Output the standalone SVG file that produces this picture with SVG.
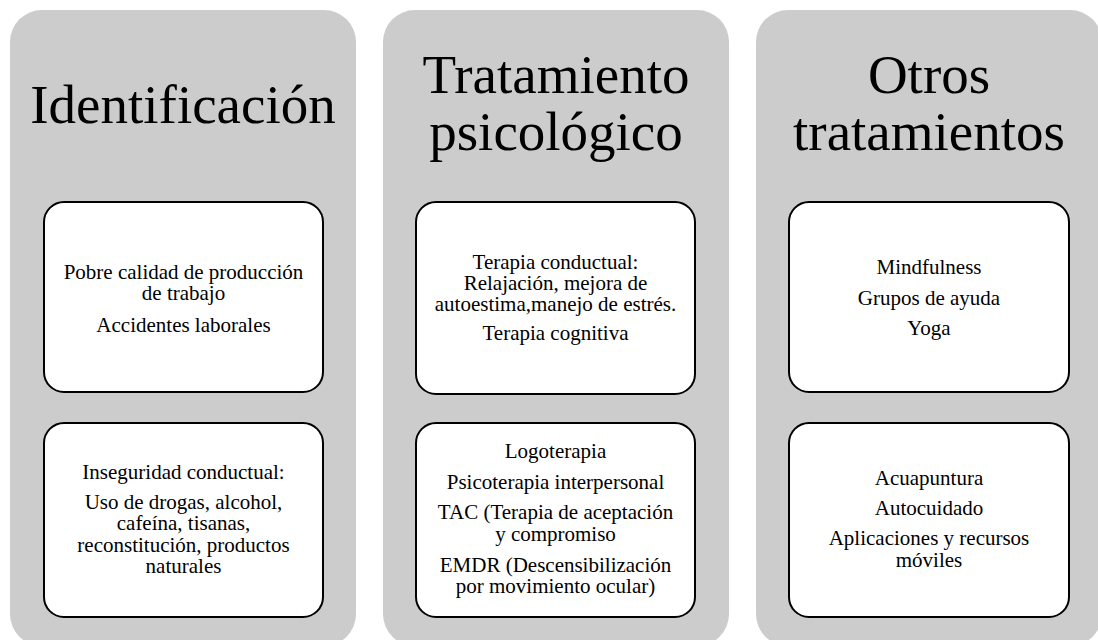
<svg xmlns="http://www.w3.org/2000/svg" width="1098" height="640" viewBox="0 0 1098 640">
<style>
.panel{fill:#cccccc;stroke:none}
.box{fill:#ffffff;stroke:#000000;stroke-width:2}
.title{font-family:"Liberation Serif","Times New Roman",serif;font-size:55px;fill:#000;text-anchor:middle}
.body{font-family:"Liberation Serif","Times New Roman",serif;font-size:21px;fill:#000;text-anchor:middle}
</style>
<rect width="1098" height="640" fill="#ffffff"/>
<g id="col1">
<rect class="panel" x="10" y="10" width="346" height="636" rx="32"/>
<text class="title" x="183" y="123">Identificación</text>
</g>
<g id="col2">
<rect class="panel" x="383" y="10" width="346" height="636" rx="32"/>
<text class="title" x="556" y="93">Tratamiento</text>
<text class="title" x="556" y="150">psicológico</text>
</g>
<g id="col3">
<rect class="panel" x="756" y="10" width="346" height="636" rx="32"/>
<text class="title" x="929" y="93">Otros</text>
<text class="title" x="929" y="150">tratamientos</text>
</g>
<g id="box1a">
<rect class="box" x="44" y="202" width="279" height="190" rx="20"/>
<text class="body" x="183.5" y="279">Pobre calidad de producción</text>
<text class="body" x="183.5" y="300">de trabajo</text>
<text class="body" x="183.5" y="331.5">Accidentes laborales</text>
</g>
<g id="box1b">
<rect class="box" x="44" y="423" width="279" height="194" rx="20"/>
<text class="body" x="183.5" y="478.5">Inseguridad conductual:</text>
<text class="body" x="183.5" y="508.5">Uso de drogas, alcohol,</text>
<text class="body" x="183.5" y="530">cafeína, tisanas,</text>
<text class="body" x="183.5" y="551.5">reconstitución, productos</text>
<text class="body" x="183.5" y="573">naturales</text>
</g>
<g id="box2a">
<rect class="box" x="416" y="202" width="279" height="192" rx="20"/>
<text class="body" x="555.5" y="268.5">Terapia conductual:</text>
<text class="body" x="555.5" y="290">Relajación, mejora de</text>
<text class="body" x="555.5" y="311">autoestima,manejo de estrés.</text>
<text class="body" x="555.5" y="340">Terapia cognitiva</text>
</g>
<g id="box2b">
<rect class="box" x="416" y="423" width="279" height="194" rx="20"/>
<text class="body" x="555.5" y="458">Logoterapia</text>
<text class="body" x="555.5" y="488.5">Psicoterapia interpersonal</text>
<text class="body" x="555.5" y="519">TAC (Terapia de aceptación</text>
<text class="body" x="555.5" y="540.5">y compromiso</text>
<text class="body" x="555.5" y="571.5">EMDR (Descensibilización</text>
<text class="body" x="555.5" y="593">por movimiento ocular)</text>
</g>
<g id="box3a">
<rect class="box" x="789" y="202" width="280" height="190" rx="20"/>
<text class="body" x="929" y="274">Mindfulness</text>
<text class="body" x="929" y="305">Grupos de ayuda</text>
<text class="body" x="929" y="335">Yoga</text>
</g>
<g id="box3b">
<rect class="box" x="789" y="423" width="280" height="194" rx="20"/>
<text class="body" x="929" y="485">Acuapuntura</text>
<text class="body" x="929" y="515">Autocuidado</text>
<text class="body" x="929" y="545">Aplicaciones y recursos</text>
<text class="body" x="929" y="566.5">móviles</text>
</g>
<g id="connectors"></g>
</svg>
